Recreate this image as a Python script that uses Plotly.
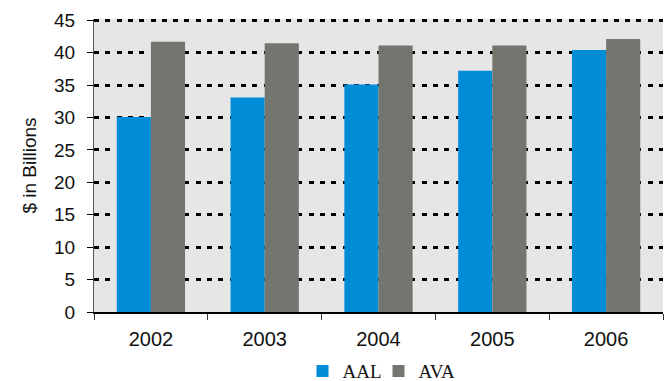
import plotly.graph_objects as go

years = ["2002", "2003", "2004", "2005", "2006"]
aal = [30.1, 33.1, 35.1, 37.2, 40.4]
ava = [41.7, 41.45, 41.1, 41.1, 42.1]
y_ticks = [0, 5, 10, 15, 20, 25, 30, 35, 40, 45]

fig = go.Figure()
fig.add_trace(go.Bar(x=years, y=aal, name="AAL",
                     marker=dict(color="#008CD6", line=dict(width=0))))
fig.add_trace(go.Bar(x=years, y=ava, name="AVA",
                     marker=dict(color="#75756F", line=dict(width=0))))

fig.update_layout(
    width=672, height=381,
    margin=dict(l=94, r=9, t=19, b=69),
    paper_bgcolor="white",
    plot_bgcolor="#E6E6E6",
    barmode="group",
    bargap=0.4,
    bargroupgap=0,
    font=dict(family="Liberation Sans, Arial", size=18, color="#111"),
    showlegend=True,
    legend=dict(orientation="h", x=0.5, xanchor="center",
                yref="container", y=0.026, yanchor="middle",
                font=dict(family="Liberation Serif, Times New Roman", size=19, color="#111"),
                itemwidth=30, entrywidth=31, entrywidthmode="pixels",
                bgcolor="rgba(0,0,0,0)"),
)
fig.update_xaxes(
    type="category", automargin=False,
    showline=True, linecolor="black", linewidth=1.5,
    ticks="outside", tickson="boundaries", ticklen=6, tickcolor="#333",
    showgrid=False,
    tickfont=dict(size=20),
    ticklabelstandoff=8,
)
fig.update_yaxes(
    range=[0, 45.2], tickvals=y_ticks, automargin=False,
    showline=True, linecolor="#555", linewidth=1.2,
    ticks="outside", ticklen=6, tickcolor="black",
    showgrid=True, gridcolor="black", gridwidth=3, griddash="5px,6.3px",
    zeroline=False,
    title=dict(text="$ in Billions", font=dict(size=19), standoff=12),
    tickfont=dict(size=19),
    ticklabelstandoff=8,
)
fig.write_html("out.html")
